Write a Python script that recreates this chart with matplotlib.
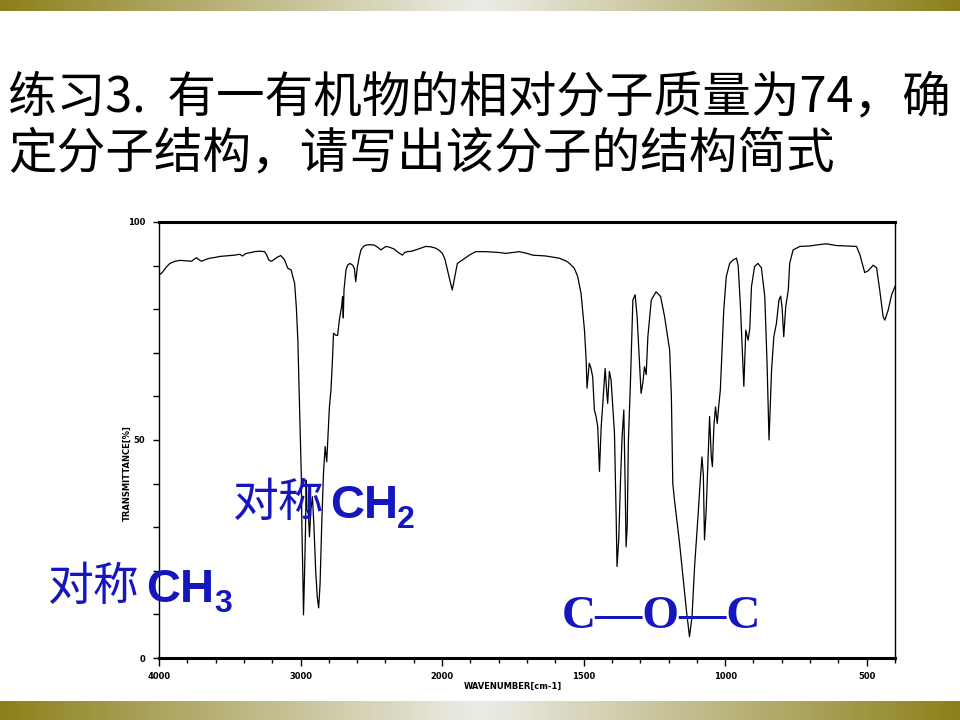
import numpy as np
import matplotlib
matplotlib.use('Agg')
import matplotlib.pyplot as plt
from matplotlib.ticker import FixedLocator, FixedFormatter

# ---------------- data ----------------
title_lines = ["练习3.  有一有机物的相对分子质量为74，确",
               "定分子结构，请写出该分子的结构简式"]

wavenumber = [
    4000, 3975, 3950, 3923, 3887, 3850, 3805, 3770, 3750, 3735, 3715, 3699, 3670, 3641,
    3600, 3571, 3535, 3500, 3465, 3430, 3409, 3395, 3383, 3350, 3324, 3290, 3254, 3240,
    3225, 3210, 3195, 3183, 3160, 3140, 3125, 3113, 3090, 3066, 3055, 3042, 3030, 3019,
    3007, 2995, 2991, 2984, 2979, 2972, 2965, 2960, 2955, 2944, 2937, 2927, 2916, 2905,
    2893, 2882, 2872, 2862, 2850, 2838, 2826, 2815, 2803, 2796, 2785, 2775, 2767, 2750,
    2738, 2726, 2710, 2703, 2698, 2693, 2679, 2667, 2651, 2632, 2620, 2610, 2600, 2585,
    2573, 2555, 2538, 2510, 2479, 2455, 2432, 2415, 2397, 2370, 2339, 2310, 2280, 2265,
    2245, 2215, 2186, 2150, 2115, 2080, 2045, 2020, 1999,
    1990, 1981, 1972, 1964, 1955, 1946, 1928, 1904, 1881, 1845, 1798, 1775, 1750, 1727,
    1700, 1680, 1633, 1586, 1560, 1550, 1533, 1521, 1509, 1497, 1491, 1488, 1480, 1474,
    1468, 1462, 1456, 1450, 1444, 1438, 1433, 1424, 1418, 1415, 1409, 1403, 1397, 1391,
    1385, 1382, 1376, 1370, 1364, 1358, 1353, 1350, 1346, 1342, 1334, 1326, 1318, 1311,
    1303, 1297, 1291, 1285, 1279, 1273, 1261, 1244, 1228, 1214, 1196, 1190, 1185, 1179,
    1161, 1149, 1137, 1126, 1117, 1108, 1096, 1087, 1082, 1077, 1073, 1067, 1061, 1055,
    1049, 1045, 1040, 1034, 1028, 1023, 1017, 1011, 1005, 996, 984, 972, 960, 954,
    946, 939, 934, 927, 919, 913, 907, 896, 884, 872, 860, 852, 845, 836,
    828, 819, 810, 804, 799, 793, 786, 777, 772, 760, 736, 701, 670, 642,
    607, 570, 536, 524, 507, 495, 477, 465, 454, 442, 436, 424, 412, 400,
]
transmittance = [
    87.8, 88.5, 89.6, 90.5, 91.0, 91.2, 91.1, 91.0, 91.5, 91.8, 91.3, 91.0, 91.4, 91.7,
    91.9, 92.1, 92.2, 92.3, 92.4, 92.6, 92.2, 92.6, 92.8, 93.0, 93.2, 93.3, 93.2, 92.5,
    91.3, 91.0, 91.2, 91.5, 92.0, 92.3, 91.8, 91.3, 89.4, 89.0, 87.5, 86.0, 80.6, 72.9,
    57.6, 42.4, 31.0, 19.5, 9.9, 19.0, 29.4, 40.8, 34.0, 33.0, 27.8, 34.0, 37.0, 30.0,
    20.0, 14.0, 11.5, 17.0, 31.0, 42.4, 48.5, 45.0, 53.0, 57.6, 61.5, 68.0, 74.5, 74.0,
    74.0, 77.5, 80.6, 82.9, 78.0, 84.4, 89.0, 90.1, 90.5, 90.1, 89.4, 86.3, 89.4, 92.0,
    93.6, 94.4, 94.7, 94.8, 94.7, 94.2, 93.6, 94.0, 94.4, 94.2, 93.8, 93.0, 92.4, 93.0,
    93.2, 93.3, 93.6, 94.0, 94.4, 94.3, 94.0, 93.5, 92.8,
    91.5, 89.0, 86.5, 84.4, 87.5, 90.5, 91.3, 92.4, 93.2, 93.2, 93.0, 92.8, 93.0, 93.2,
    92.8, 92.4, 92.2, 91.7, 91.0, 90.5, 89.4, 87.5, 83.6, 75.2, 68.3, 61.9, 67.6, 66.5,
    64.5, 56.9, 55.4, 53.0, 42.8, 53.0, 57.6, 66.4, 60.7, 58.4, 65.7, 63.8, 57.6, 51.5,
    32.4, 21.0, 27.1, 40.0, 50.8, 56.9, 38.5, 25.5, 30.1, 49.2, 64.5, 82.1, 83.3, 78.3,
    68.3, 60.7, 63.0, 66.8, 65.0, 73.7, 82.1, 84.0, 82.9, 78.3, 70.6, 60.0, 40.0, 36.2,
    26.3, 18.6, 11.0, 4.9, 9.5, 21.0, 32.4, 41.6, 46.1, 42.0, 27.1, 33.9, 44.6, 55.4,
    46.1, 43.9, 53.0, 57.6, 53.8, 57.6, 61.5, 70.6, 79.8, 87.5, 90.5, 91.3, 91.7, 90.0,
    80.6, 69.9, 62.3, 75.2, 72.9, 75.5, 85.2, 89.8, 90.5, 89.5, 82.9, 67.6, 50.0, 66.1,
    73.7, 76.7, 82.1, 83.0, 80.5, 73.7, 80.6, 84.4, 90.5, 93.6, 94.4, 94.5, 94.8, 95.0,
    94.6, 94.5, 94.4, 92.5, 88.4, 88.8, 90.1, 89.5, 84.4, 78.3, 77.5, 79.8, 83.3, 85.2,
]

x_major_ticks = [4000, 3000, 2000, 1500, 1000, 500]
x_minor_ticks = list(range(4000, 2000, -200)) + list(range(2000, 399, -100))
y_major_ticks = [0, 50, 100]
y_minor_ticks = list(range(0, 101, 10))

# ---------------- figure ----------------
W, H = 960, 720
fig = plt.figure(figsize=(9.6, 7.2), dpi=100)
fig.patch.set_facecolor('white')


def fx(px):
    return px / W


def fy(py):
    return 1 - py / H


# gradient bars (top and bottom)
edge = np.array([140, 128, 26]) / 255.0
center = np.array([237, 237, 232]) / 255.0
t = 1 - np.abs(np.linspace(-1, 1, W))
row = edge[None, :] + (center - edge)[None, :] * t[:, None]
img = row[None, :, :]
for y0, h in [(0, 11), (701, 19)]:
    bax = fig.add_axes([0, fy(y0 + h), 1, h / H])
    bax.imshow(img, aspect='auto', extent=[0, 1, 0, 1], interpolation='bilinear')
    bax.axis('off')

# spectrum axes
ax = fig.add_axes([fx(159), fy(658), (895 - 159) / W, (658 - 222) / H])


def fwd(w):
    w = np.asarray(w, dtype=float)
    return np.where(w >= 2000, 2000 + (w - 2000) / 2.0, w)


def inv(u):
    u = np.asarray(u, dtype=float)
    return np.where(u >= 2000, 2000 + (u - 2000) * 2.0, u)


ax.set_xscale('function', functions=(fwd, inv))
ax.set_xlim(4000, 400)
ax.set_ylim(0, 100)
ax.plot(wavenumber, transmittance, color='black', lw=0.9)

tick_font = dict(family='DejaVu Sans', weight='bold', size=6)
ax.xaxis.set_major_locator(FixedLocator(x_major_ticks))
ax.xaxis.set_major_formatter(FixedFormatter([str(v) for v in x_major_ticks]))
ax.xaxis.set_minor_locator(FixedLocator(x_minor_ticks))
ax.yaxis.set_major_locator(FixedLocator(y_major_ticks))
ax.yaxis.set_major_formatter(FixedFormatter([str(v) for v in y_major_ticks]))
ax.yaxis.set_minor_locator(FixedLocator(y_minor_ticks))
ax.tick_params(axis='x', which='major', direction='out', length=6, width=1, pad=4)
ax.tick_params(axis='x', which='minor', direction='out', length=3.5, width=1)
ax.tick_params(axis='y', which='both', direction='out', length=4, width=1, pad=6)
for lab in ax.get_xticklabels() + ax.get_yticklabels():
    lab.set_fontproperties(matplotlib.font_manager.FontProperties(**tick_font))

for side, lw in [('top', 2.2), ('bottom', 2.2), ('left', 1.0), ('right', 1.0)]:
    ax.spines[side].set_linewidth(lw)
    ax.spines[side].set_color('black')

fig.text(fx(127), fy(473), 'TRANSMITTANCE[%]', rotation=90, ha='center', va='center',
         **tick_font)
fig.text(fx(513), fy(686), 'WAVENUMBER[cm-1]', ha='center', va='center', **tick_font)

# title
cjk = ['Noto Sans CJK SC', 'DejaVu Sans']
fig.text(fx(8), fy(111), title_lines[0], fontsize=35, family=cjk, va='baseline', color='black')
fig.text(fx(8), fy(168), title_lines[1], fontsize=35, family=cjk, va='baseline', color='black')

# annotations
blue = '#1616BE'
fig.text(fx(233), fy(516), '对称', fontsize=33, family=cjk, weight='light', color=blue,
         va='baseline')
fig.text(fx(330), fy(518), 'CH', fontsize=34, family='Liberation Sans', weight='bold',
         color=blue, va='baseline')
fig.text(fx(397), fy(528), '2', fontsize=23, family='Liberation Sans', weight='bold',
         color=blue, va='baseline')

fig.text(fx(48), fy(600), '对称', fontsize=33, family=cjk, weight='light', color=blue,
         va='baseline')
fig.text(fx(146), fy(602), 'CH', fontsize=34, family='Liberation Sans', weight='bold',
         color=blue, va='baseline')
fig.text(fx(214), fy(612), '3', fontsize=23, family='Liberation Sans', weight='bold',
         color=blue, va='baseline')

fig.text(fx(562), fy(628), 'C\u2014O\u2014C', fontsize=34, family='Liberation Serif',
         weight='bold', color=blue, va='baseline')

fig.savefig('out.png', dpi=100, facecolor='white')
